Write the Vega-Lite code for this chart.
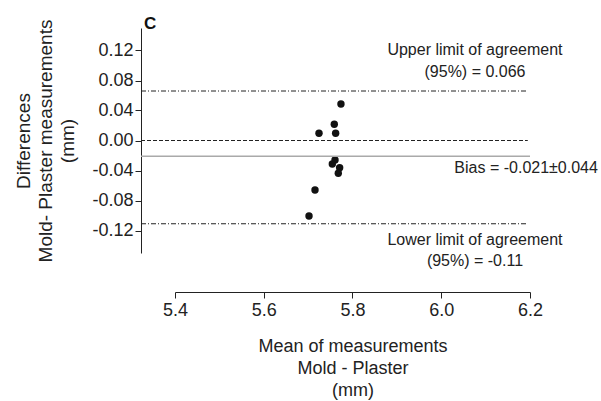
{
  "$schema": "https://vega.github.io/schema/vega-lite/v6.json",
  "width": 355,
  "height": 225,
  "autosize": {"type": "none"},
  "padding": {"left": 175, "top": 28, "right": 71, "bottom": 148},
  "background": "white",
  "config": {
    "view": {"stroke": null},
    "font": "Liberation Sans",
    "axis": {
      "domainColor": "#222",
      "tickColor": "#222",
      "labelColor": "#222",
      "titleColor": "#222",
      "grid": false,
      "labelFontSize": 18,
      "titleFontSize": 18,
      "titleFontWeight": "normal",
      "titleLineHeight": 22,
      "tickSize": 6,
      "domainWidth": 1,
      "tickWidth": 1,
      "labelOverlap": false,
      "labelFlush": false
    }
  },
  "layer": [
    {
      "data": {"values": [
        {"mean": 5.774, "diff": 0.0487},
        {"mean": 5.759, "diff": 0.0216},
        {"mean": 5.7245, "diff": 0.0096},
        {"mean": 5.762, "diff": 0.0096},
        {"mean": 5.7606, "diff": -0.026},
        {"mean": 5.7545, "diff": -0.0313},
        {"mean": 5.771, "diff": -0.0363},
        {"mean": 5.768, "diff": -0.0437},
        {"mean": 5.7155, "diff": -0.066},
        {"mean": 5.702, "diff": -0.1007}
      ]},
      "mark": {"type": "circle", "size": 55, "color": "#111", "opacity": 1},
      "encoding": {
        "x": {
          "field": "mean", "type": "quantitative",
          "scale": {"domain": [5.4, 6.2], "nice": false, "zero": false},
          "axis": {
            "values": [5.4, 5.6, 5.8, 6.0, 6.2], "tickCount": 10, "format": ".1f", "offset": 39,
            "labelOverlap": false, "labelFlush": false,
            "labelPadding": 3, "title": ["Mean of  measurements", "Mold - Plaster", "(mm)"], "titlePadding": 18
          }
        },
        "y": {
          "field": "diff", "type": "quantitative",
          "scale": {"domain": [-0.15, 0.15], "nice": false, "zero": false},
          "axis": {
            "values": [-0.12, -0.08, -0.04, 0, 0.04, 0.08, 0.12],
            "tickCount": 20,
            "labelExpr": "replace(format(datum.value, '.2f'), '\u2212', '-')",
            "labelOverlap": false, "labelFlush": false,
            "offset": 34,
            "labelPadding": 2, "title": ["Differences", "Mold- Plaster measurements", "(mm)"],
            "titleFontSize": 19, "titleLineHeight": 22, "titlePadding": 14
          }
        }
      }
    },
    {
      "data": {"values": [{"x": 5.3234, "x2": 6.195, "y": 0.066}, {"x": 5.3234, "x2": 6.195, "y": -0.111}]},
      "mark": {"type": "rule", "color": "#222", "strokeWidth": 1, "strokeDash": [5, 2, 1, 2]},
      "encoding": {
        "x": {"field": "x", "type": "quantitative"},
        "x2": {"field": "x2"},
        "y": {"field": "y", "type": "quantitative"}
      }
    },
    {
      "data": {"values": [{"x": 5.3234, "x2": 6.195, "y": 0}]},
      "mark": {"type": "rule", "color": "#222", "strokeWidth": 1, "strokeDash": [4, 2]},
      "encoding": {
        "x": {"field": "x", "type": "quantitative"},
        "x2": {"field": "x2"},
        "y": {"field": "y", "type": "quantitative"}
      }
    },
    {
      "data": {"values": [{"x": 5.3234, "x2": 6.2, "y": -0.021}]},
      "mark": {"type": "rule", "color": "#aaaaaa", "strokeWidth": 1.5},
      "encoding": {
        "x": {"field": "x", "type": "quantitative"},
        "x2": {"field": "x2"},
        "y": {"field": "y", "type": "quantitative"}
      }
    },
    {
      "data": {"values": [
        {"x": 6.076, "y": 0.1207, "label": "Upper limit of agreement"},
        {"x": 6.076, "y": 0.0913, "label": "(95%) = 0.066"},
        {"x": 6.076, "y": -0.1327, "label": "Lower limit of agreement"},
        {"x": 6.076, "y": -0.1607, "label": "(95%) = -0.11"}
      ]},
      "mark": {"type": "text", "fontSize": 16, "color": "#222", "align": "center", "baseline": "middle"},
      "encoding": {
        "x": {"field": "x", "type": "quantitative"},
        "y": {"field": "y", "type": "quantitative"},
        "text": {"field": "label"}
      }
    },
    {
      "data": {"values": [{"x": 6.353, "y": -0.0367, "label": "Bias = -0.021±0.044"}]},
      "mark": {"type": "text", "fontSize": 16, "color": "#222", "align": "right", "baseline": "middle"},
      "encoding": {
        "x": {"field": "x", "type": "quantitative"},
        "y": {"field": "y", "type": "quantitative"},
        "text": {"field": "label"}
      }
    },
    {
      "data": {"values": [{"x": 5.3437, "y": 0.1547, "label": "C"}]},
      "mark": {"type": "text", "fontSize": 17, "fontWeight": "bold", "color": "#111", "align": "center", "baseline": "middle"},
      "encoding": {
        "x": {"field": "x", "type": "quantitative"},
        "y": {"field": "y", "type": "quantitative"},
        "text": {"field": "label"}
      }
    }
  ]
}
